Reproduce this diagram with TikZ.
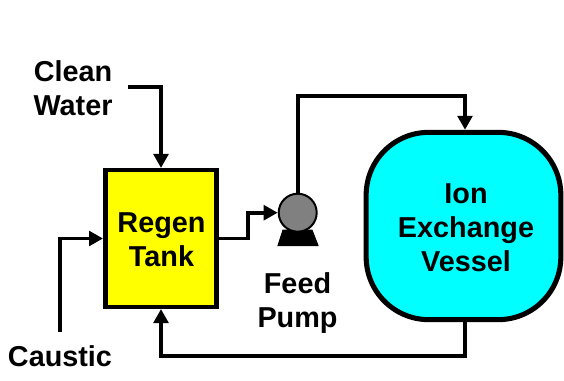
\documentclass[tikz,border=0pt]{standalone}
\usepackage{fontspec}
\setmainfont{Liberation Sans}
\usetikzlibrary{arrows.meta}

\definecolor{tankyellow}{RGB}{255,255,0}
\definecolor{vesselcyan}{RGB}{0,255,255}
\definecolor{pumpgray}{RGB}{128,128,128}

\tikzset{every picture/.style={line width=0.75pt}}
\tikzset{
	label/.style={align=center,inner sep=0pt,font=\bfseries\fontsize{21.6}{25.5}\selectfont},
	pipe/.style={line width=2.9pt,line join=miter},
	flow/.style={pipe,-{Triangle[length=10.5pt,width=11pt]}}
}

\begin{document}
\begin{tikzpicture}[x=0.75pt,y=0.75pt,yscale=-1,xscale=1]
	\useasboundingbox (0,0) rectangle (564,381);

	% Regen tank
	\node [draw,fill=tankyellow,line width=3.4pt,minimum width=83.6pt,minimum height=102.4pt,inner sep=0pt] (tank) at (161,238.5) {};
	% Ion exchange vessel
	\node [draw,fill=vesselcyan,line width=3.8pt,rounded corners=47pt,minimum width=146pt,minimum height=140.5pt,inner sep=0pt] (vessel) at (463.5,226) {};
	% Pump base
	\draw [fill=black] (283,230) -- (312,230) -- (318,245.5) -- (278,245.5) -- cycle ;
	% Pump
	\node [draw,circle,fill=pumpgray,line width=1.5pt,minimum size=28.5pt,inner sep=0pt] (pump) at (297.7,212.7) {};

	% Text Node
	\node [label] (tanklabel) at (161.5,240) {Regen\\Tank};
	% Text Node
	\node [label] (vessellabel) at (466,228) {Ion\\Exchange\\Vessel};
	% Text Node
	\node [label] (water) at (73,88) {Clean\\Water};
	% Text Node
	\node [label] (caustic) at (60,356.5) {Caustic};
	% Text Node
	\node [label] (feed) at (297.5,303.5) {Feed\\Pump};

	\coordinate (waterend) at (128,87);
	\coordinate (causticend) at (60,332);

	%Straight Lines
	\draw [flow] (waterend) -| (tank.north);
	\draw [flow] (causticend) |- (tank.west);
	\draw [flow] (tank.east) -- (248,238.5) -- (248,212.7) -- (pump.west);
	\draw [flow] (pump.north) -- (297.7,96) -- (465,96) -- (vessel.north -| 465,0);
	\draw [flow] (vessel.south -| 465,0) -- (465,356) -- (161,356) -- (tank.south);

\end{tikzpicture}
\end{document}
